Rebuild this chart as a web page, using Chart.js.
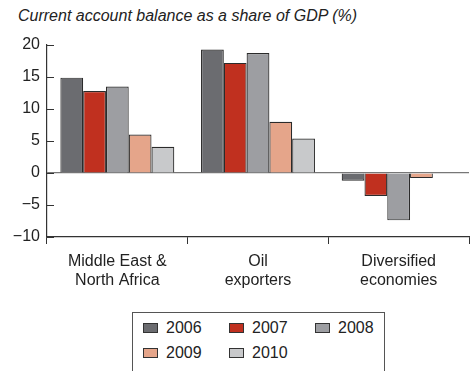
<!DOCTYPE html>
<html>
<head>
<meta charset="utf-8">
<script src="https://cdn.jsdelivr.net/npm/chart.js@4.4.0/dist/chart.umd.min.js"></script>
<style>
  body { margin: 0; background: #fff; font-family: "Liberation Sans", Arial, sans-serif; }
  #wrap { position: relative; width: 470px; height: 371px; }
  #titulo { position: absolute; left: 18px; top: 7px; font-size: 16px; font-style: italic; color: #222; }
  #grafico { position: absolute; left: 0; top: 0; }
  #leyenda { position: absolute; left: 132px; top: 312px; width: 253px; height: 60px; border: 1px solid #555; box-sizing: border-box; }
  .item { position: absolute; font-size: 16px; color: #222; line-height: 18px; }
  .item span.cuadro { position: absolute; left: 0; top: 4px; width: 15px; height: 10px; border: 1px solid #333; box-sizing: border-box; }
  .item span.txt { position: absolute; left: 23px; top: 0; white-space: nowrap; }
</style>
</head>
<body>
<div id="wrap">
  <div id="titulo">Current account balance as a share of GDP (%)</div>
  <canvas id="grafico" width="470" height="300"></canvas>
  <div id="leyenda"></div>
</div>
<script>
// categorias y series
const categorias = [["Middle East &", "North Africa"], ["Oil", "exporters"], ["Diversified", "economies"]]
const anios = ["2006", "2007", "2008", "2009", "2010"]
const colores = ["#6b6c70", "#c0301f", "#9d9ea2", "#e5a58a", "#c8c9cb"]

const v2006 = [14.9, 19.3, -1.2]
const v2007 = [12.8, 17.2, -3.6]
const v2008 = [13.5, 18.75, -7.4]
const v2009 = [6.0, 8.0, -0.8]
const v2010 = [4.1, 5.4, null]

const ticksY = [-10, -5, 0, 5, 10, 15, 20]

const series = [v2006, v2007, v2008, v2009, v2010]

// marcas hacia dentro del eje y
const marcasY = {
    id: "marcasY",
    afterDraw(chart) {
        const ctx = chart.ctx
        const y = chart.scales.y
        ctx.save()
        ctx.strokeStyle = "#333"
        ctx.lineWidth = 1
        ticksY.forEach(t => {
            const py = Math.round(y.getPixelForValue(t)) + 0.5
            ctx.beginPath()
            ctx.moveTo(y.right, py)
            ctx.lineTo(y.right + 7, py)
            ctx.stroke()
        })
        ctx.restore()
    }
}

const grafico = document.getElementById("grafico").getContext("2d")
const myChart = new Chart(grafico, {
    type: "bar",
    data: {
        labels: categorias,
        datasets: series.map((datos, i) => ({
            label: anios[i],
            data: datos,
            backgroundColor: colores[i],
            borderColor: "#2b2b2b",
            borderWidth: 1.2,
            categoryPercentage: 0.81,
            barPercentage: 1
        }))
    },
    options: {
        responsive: false,
        animation: false,
        layout: { padding: { top: 45, right: 1, left: 0, bottom: 0 } },
        plugins: {
            legend: { display: false },
            tooltip: { enabled: false }
        },
        scales: {
            x: {
                grid: { offset: true, drawOnChartArea: false, tickLength: 7, color: "#333" },
                border: { color: "#333", width: 1.2 },
                ticks: { color: "#222", font: { family: "Liberation Sans", size: 16 }, padding: 8, maxRotation: 0 },
                afterFit: s => { s.height = 63 }
            },
            y: {
                min: -10,
                max: 20,
                afterBuildTicks: s => { s.ticks = ticksY.map(v => ({ value: v })) },
                grid: {
                    drawTicks: false,
                    color: c => c.tick && c.tick.value === 0 ? "#777" : "rgba(0,0,0,0)",
                    lineWidth: 1.2
                },
                border: { color: "#333", width: 1.2 },
                ticks: {
                    color: "#222",
                    font: { family: "Liberation Sans", size: 16 },
                    padding: 7,
                    callback: v => String(v).replace("-", "\u2212")
                },
                afterFit: s => { s.width = 47 }
            }
        }
    },
    plugins: [marcasY]
})

// leyenda con borde
const leyenda = document.getElementById("leyenda")
anios.forEach((a, i) => {
    const col = i % 3
    const fila = Math.floor(i / 3)
    const div = document.createElement("div")
    div.className = "item"
    div.style.left = (10 + col * 86) + "px"
    div.style.top = (6 + fila * 25) + "px"
    div.innerHTML = `<span class="cuadro" style="background:${colores[i]}"></span><span class="txt">${a}</span>`
    leyenda.appendChild(div)
})
</script>
</body>
</html>
